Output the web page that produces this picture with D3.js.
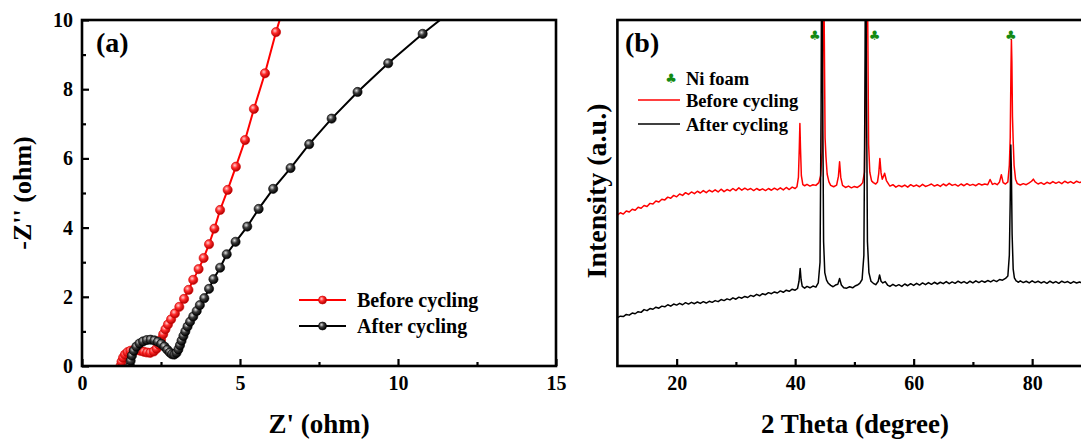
<!DOCTYPE html>
<html><head><meta charset="utf-8">
<script src="https://cdn.jsdelivr.net/npm/d3@7/dist/d3.min.js"></script>
<style>
html,body{margin:0;padding:0;background:#fff;overflow:hidden;}
text{font-family:"Liberation Serif","Times New Roman",serif;font-weight:bold;}
</style></head>
<body>
<svg id="chart" width="1081" height="441"></svg>
<script>
// ---------- Panel (a): Nyquist data [Z', -Z''] ----------
const beforeEIS = [[1.22,0.0],[1.25,0.12],[1.30,0.24],[1.36,0.33],[1.44,0.40],[1.53,0.44],[1.63,0.46],[1.74,0.46],[1.85,0.44],[1.96,0.41],[2.06,0.39],[2.16,0.38],[2.27,0.42],[2.36,0.50],[2.43,0.62],[2.50,0.76],[2.57,0.92],[2.64,1.06],[2.72,1.20],[2.82,1.35],[2.94,1.52],[3.08,1.71],[3.23,1.94],[3.37,2.20],[3.52,2.49],[3.69,2.80],[3.85,3.12],[4.02,3.52],[4.19,3.97],[4.37,4.51],[4.61,5.09],[4.87,5.76],[5.16,6.53],[5.44,7.43],[5.79,8.46],[6.14,9.65],[6.55,10.9]];
const afterEIS = [[1.52,0.0],[1.54,0.15],[1.58,0.30],[1.64,0.44],[1.72,0.56],[1.82,0.65],[1.93,0.71],[2.05,0.75],[2.17,0.76],[2.29,0.74],[2.40,0.70],[2.51,0.64],[2.61,0.56],[2.70,0.47],[2.78,0.39],[2.85,0.34],[2.92,0.33],[2.99,0.38],[3.05,0.48],[3.10,0.60],[3.15,0.73],[3.21,0.87],[3.27,1.00],[3.34,1.14],[3.42,1.28],[3.52,1.43],[3.63,1.59],[3.73,1.76],[3.87,1.96],[4.02,2.23],[4.16,2.51],[4.37,2.84],[4.58,3.23],[4.86,3.59],[5.23,4.03],[5.59,4.54],[6.05,5.12],[6.60,5.72],[7.19,6.41],[7.90,7.15],[8.72,7.92],[9.69,8.75],[10.78,9.60],[11.95,10.45]];
const eisXTicks = [0,5,10,15];
const eisXMinor = [2.5,7.5,12.5];
const eisYTicks = [0,2,4,6,8,10];
const eisYMinor = [1,3,5,7,9];

// ---------- Panel (b): XRD data [2theta, intensity (a.u.)] ----------
const beforeXRD = [[10.0,43.6],[10.5,44.3],[11.0,43.9],[11.5,44.8],[12.0,44.5],[12.5,45.3],[13.0,45.0],[13.5,45.9],[14.0,45.6],[14.5,46.4],[15.0,46.1],[15.5,47.0],[16.0,46.8],[16.5,47.7],[17.0,47.4],[17.5,48.2],[18.0,48.0],[18.5,48.8],[19.0,48.5],[19.5,49.3],[20.0,48.9],[20.5,49.7],[21.0,49.3],[21.5,50.1],[22.0,49.6],[22.5,50.3],[23.0,49.8],[23.5,50.5],[24.0,50.0],[24.5,50.7],[25.0,50.1],[25.5,50.8],[26.0,50.3],[26.5,50.9],[27.0,50.3],[27.5,51.1],[28.0,50.4],[28.5,51.0],[29.0,50.6],[29.5,51.3],[30.0,50.7],[30.5,51.5],[31.0,50.8],[31.5,51.4],[32.0,50.9],[32.5,51.3],[33.0,50.7],[33.5,51.3],[34.0,50.8],[34.5,51.2],[35.0,50.7],[35.5,51.3],[36.0,50.8],[36.5,51.4],[37.0,50.9],[37.5,51.5],[38.0,50.9],[38.5,51.6],[39.0,51.0],[39.5,51.7],[40.0,51.3],[40.3,51.8],[40.55,54.5],[40.7,63],[40.8,70.1],[40.9,63],[41.05,55],[41.3,52.4],[41.6,52.1],[42.0,52.5],[42.5,52.0],[43.0,52.4],[43.5,52.2],[44.0,53.0],[44.3,55],[44.55,62],[44.7,95],[44.8,135],[44.9,100],[45.05,66],[45.2,60.5],[45.4,55.5],[45.7,53.2],[46.0,52.2],[46.5,51.8],[47.0,52.3],[47.3,54.8],[47.5,59.0],[47.7,54.5],[48.0,52.2],[48.5,51.6],[49.0,52.0],[49.5,51.5],[50.0,51.9],[50.5,51.6],[51.0,52.2],[51.4,53.0],[51.7,56],[51.95,95],[52.1,135],[52.25,100],[52.4,64],[52.6,56],[52.9,53.5],[53.2,53.0],[53.6,52.6],[53.9,53.2],[54.1,55.5],[54.3,60.0],[54.5,55.8],[54.7,54.0],[54.9,54.8],[55.1,55.7],[55.4,53.6],[55.8,52.5],[56.0,52.0],[56.5,52.4],[57.0,51.7],[57.5,52.2],[58.0,51.8],[58.5,52.3],[59.0,51.7],[59.5,52.4],[60.0,51.9],[60.5,52.3],[61.0,51.8],[61.5,52.5],[62.0,51.9],[62.5,52.2],[63.0,52.6],[63.5,52.0],[64.0,52.4],[64.5,51.9],[65.0,52.6],[65.5,52.1],[66.0,52.8],[66.5,52.2],[67.0,52.5],[67.5,52.0],[68.0,52.6],[68.5,52.1],[69.0,52.7],[69.5,52.2],[70.0,52.5],[70.5,52.1],[71.0,52.7],[71.5,52.3],[72.0,52.6],[72.5,52.4],[72.9,53.9],[73.3,52.5],[73.7,52.8],[74.1,52.4],[74.5,53.2],[74.8,55.3],[75.1,53.0],[75.5,52.6],[75.9,53.2],[76.15,58],[76.3,66],[76.42,85],[76.5,94.3],[76.58,88],[76.68,72],[76.8,65],[76.95,58],[77.2,54],[77.5,52.7],[78.0,52.3],[78.5,52.7],[79.0,52.4],[79.5,52.9],[79.9,53.4],[80.2,54.0],[80.5,53.2],[81.0,52.6],[81.5,53.0],[82.0,52.5],[82.5,53.1],[83.0,52.7],[83.5,53.3],[84.0,52.8],[84.5,53.2],[85.0,52.7],[85.5,53.4],[86.0,52.9],[86.5,53.3],[87.0,52.8],[87.5,53.4],[88.0,53.0],[88.5,53.3],[89.0,52.9],[89.5,53.2],[90.0,53.0]];
const afterXRD = [[10.0,14.0],[10.5,14.4],[11.0,14.3],[11.5,14.9],[12.0,14.7],[12.5,15.3],[13.0,15.1],[13.5,15.7],[14.0,15.5],[14.5,16.3],[15.0,16.0],[15.5,16.6],[16.0,16.4],[16.5,17.0],[17.0,16.7],[17.5,17.3],[18.0,17.1],[18.5,17.7],[19.0,17.3],[19.5,17.9],[20.0,17.6],[20.5,18.1],[21.0,17.7],[21.5,18.3],[22.0,17.9],[22.5,18.4],[23.0,18.0],[23.5,18.5],[24.0,18.1],[24.5,18.6],[25.0,18.2],[25.5,18.7],[26.0,18.4],[26.5,18.9],[27.0,18.6],[27.5,19.2],[28.0,18.9],[28.5,19.4],[29.0,19.1],[29.5,19.7],[30.0,19.3],[30.5,19.9],[31.0,19.6],[31.5,20.1],[32.0,19.8],[32.5,20.4],[33.0,20.1],[33.5,20.7],[34.0,20.3],[34.5,20.9],[35.0,20.6],[35.5,21.2],[36.0,20.9],[36.5,21.4],[37.0,21.1],[37.5,21.7],[38.0,21.3],[38.5,21.9],[39.0,21.6],[39.5,22.2],[40.0,21.9],[40.4,22.4],[40.65,24.5],[40.85,28.2],[41.0,25.0],[41.2,23.0],[41.6,22.5],[42.0,23.0],[42.5,22.6],[43.0,23.1],[43.5,22.8],[43.9,24.0],[44.2,30],[44.38,75],[44.5,140],[44.62,85],[44.8,36],[45.0,27],[45.3,24.8],[45.6,23.9],[46.0,23.3],[46.4,22.9],[46.8,23.4],[47.2,23.6],[47.5,25.3],[47.8,23.4],[48.2,22.6],[48.7,22.5],[49.2,22.9],[49.7,22.6],[50.2,23.2],[50.6,23.5],[50.9,23.9],[51.3,25],[51.6,32],[51.78,80],[51.9,140],[52.02,85],[52.2,36],[52.45,27],[52.8,24.5],[53.2,23.9],[53.6,23.5],[54.0,24.4],[54.25,26.3],[54.5,24.5],[54.8,24.0],[55.2,24.4],[55.6,23.4],[56.0,23.0],[56.5,23.6],[57.0,23.1],[57.5,23.5],[58.0,23.0],[58.5,23.7],[59.0,23.2],[59.5,23.8],[60.0,23.3],[60.5,23.9],[61.0,23.4],[61.5,24.0],[62.0,23.5],[62.5,24.1],[63.0,23.6],[63.5,24.2],[64.0,23.7],[64.5,24.2],[65.0,23.8],[65.5,24.4],[66.0,23.8],[66.5,24.3],[67.0,23.9],[67.5,24.5],[68.0,24.0],[68.5,24.4],[69.0,23.9],[69.5,24.5],[70.0,24.0],[70.5,24.6],[71.0,24.1],[71.5,24.6],[72.0,24.2],[72.5,24.7],[73.0,24.3],[73.5,24.8],[74.0,24.4],[74.5,25.0],[75.0,24.8],[75.5,25.3],[75.9,26.0],[76.15,32],[76.3,48],[76.4,63.9],[76.5,56],[76.62,38],[76.8,28],[77.0,25.5],[77.3,24.6],[77.7,24.2],[78.0,24.6],[78.5,24.1],[79.0,24.5],[79.5,24.0],[80.0,24.6],[80.5,24.1],[81.0,24.5],[81.5,24.0],[82.0,24.4],[82.5,23.9],[83.0,24.5],[83.5,24.0],[84.0,24.4],[84.5,23.9],[85.0,24.5],[85.5,24.1],[86.0,24.4],[86.5,23.9],[87.0,24.4],[87.5,24.0],[88.0,24.3],[88.5,23.9],[89.0,24.3],[89.5,24.0],[90.0,24.2]];
const niFoamPeaks = [44.5, 51.9, 76.4];
const xrdXTicks = [20,40,60,80];
const xrdXMinor = [30,50,70];

const seriesNames = ["Before cycling","After cycling"];
const seriesColors = ["#ff0000","#000000"];

// ---------- Drawing ----------
const svg = d3.select("#chart");
const defs = svg.append("defs");
function ballGrad(id, c0, c1, c2){
  const g = defs.append("radialGradient").attr("id",id).attr("cx","38%").attr("cy","35%").attr("r","65%");
  g.append("stop").attr("offset","0%").attr("stop-color",c0);
  g.append("stop").attr("offset","45%").attr("stop-color",c1);
  g.append("stop").attr("offset","100%").attr("stop-color",c2);
}
ballGrad("ballRed","#ffd0d0","#ff2a2a","#b00000");
ballGrad("ballBlack","#e0e0e0","#3a3a3a","#000000");

// Panel (a)
const A = {l:82, r:556, t:20, b:366};
const xA = d3.scaleLinear().domain([0,15]).range([A.l, A.r]);
const yA = d3.scaleLinear().domain([0,10]).range([A.b, A.t]);
defs.append("clipPath").attr("id","clipA").append("rect").attr("x",A.l).attr("y",A.t).attr("width",A.r-A.l).attr("height",A.b-A.t);

const gA = svg.append("g");
function styleAxis(g){
  g.select(".domain").remove();
  g.selectAll(".tick line").attr("stroke","#000").attr("stroke-width",2.2);
  g.selectAll(".tick text").attr("fill","#000").style("font-size","20px").style("font-family",'"Liberation Serif","Times New Roman",serif').style("font-weight","bold");
}
gA.append("g").attr("transform",`translate(0,${A.b})`)
  .call(d3.axisBottom(xA).tickValues(eisXTicks).tickSizeInner(-7).tickSizeOuter(0).tickPadding(10).tickFormat(d3.format("d")))
  .call(styleAxis);
gA.append("g").attr("transform",`translate(0,${A.b})`)
  .call(d3.axisBottom(xA).tickValues(eisXMinor).tickSizeInner(-4).tickSizeOuter(0).tickFormat(""))
  .call(styleAxis);
gA.append("g").attr("transform",`translate(${A.l},0)`)
  .call(d3.axisLeft(yA).tickValues(eisYTicks).tickSizeInner(-7).tickSizeOuter(0).tickPadding(9).tickFormat(d3.format("d")))
  .call(styleAxis);
gA.append("g").attr("transform",`translate(${A.l},0)`)
  .call(d3.axisLeft(yA).tickValues(eisYMinor).tickSizeInner(-4).tickSizeOuter(0).tickFormat(""))
  .call(styleAxis);

const lineA = d3.line().x(d=>xA(d[0])).y(d=>yA(d[1]));
const plotA = gA.append("g").attr("clip-path","url(#clipA)");
[[beforeEIS,0,"ballRed"],[afterEIS,1,"ballBlack"]].forEach(([data,i,grad])=>{
  plotA.append("path").datum(data).attr("d",lineA).attr("fill","none").attr("stroke",seriesColors[i]).attr("stroke-width",2);
  plotA.selectAll(null).data(data).enter().append("circle")
    .attr("cx",d=>xA(d[0])).attr("cy",d=>yA(d[1])).attr("r",4.6)
    .attr("fill",`url(#${grad})`).attr("stroke",i===0?"#d00000":"#000").attr("stroke-width",0.6);
});
gA.append("rect").attr("x",A.l).attr("y",A.t).attr("width",A.r-A.l).attr("height",A.b-A.t)
  .attr("fill","none").attr("stroke","#000").attr("stroke-width",2.6);

gA.append("text").attr("x",96).attr("y",52).style("font-size","28px").text("(a)");
gA.append("text").attr("x",319).attr("y",433).attr("text-anchor","middle").style("font-size","27px").text("Z' (ohm)");
gA.append("text").attr("transform",`translate(22,${(A.t+A.b)/2}) rotate(-90)`).attr("text-anchor","middle").attr("dominant-baseline","central").style("font-size","26px").text("-Z'' (ohm)");

// legend (a)
const legA = gA.append("g");
[[300,0,"ballRed"],[326,1,"ballBlack"]].forEach(([y,i,grad])=>{
  legA.append("line").attr("x1",299).attr("x2",346).attr("y1",y).attr("y2",y).attr("stroke",seriesColors[i]).attr("stroke-width",2);
  legA.append("circle").attr("cx",322.5).attr("cy",y).attr("r",4).attr("fill",`url(#${grad})`).attr("stroke",i===0?"#d00000":"#000").attr("stroke-width",0.6);
  legA.append("text").attr("x",357).attr("y",y).attr("dominant-baseline","central").style("font-size","20px").text(seriesNames[i]);
});

// Panel (b)
const B = {l:617.4, r:1091.4, t:20, b:366};
const xB = d3.scaleLinear().domain([10,90]).range([B.l, B.r]);
const yB = d3.scaleLinear().domain([0,100]).range([B.b, B.t]);
defs.append("clipPath").attr("id","clipB").append("rect").attr("x",B.l).attr("y",B.t).attr("width",B.r-B.l).attr("height",B.b-B.t);
const gB = svg.append("g");
gB.append("g").attr("transform",`translate(0,${B.b})`)
  .call(d3.axisBottom(xB).tickValues(xrdXTicks).tickSizeInner(-7).tickSizeOuter(0).tickPadding(10).tickFormat(d3.format("d")))
  .call(styleAxis);
gB.append("g").attr("transform",`translate(0,${B.b})`)
  .call(d3.axisBottom(xB).tickValues(xrdXMinor).tickSizeInner(-4).tickSizeOuter(0).tickFormat(""))
  .call(styleAxis);
const lineB = d3.line().x(d=>xB(d[0])).y(d=>yB(d[1]));
const plotB = gB.append("g").attr("clip-path","url(#clipB)");
plotB.append("path").datum(beforeXRD).attr("d",lineB).attr("fill","none").attr("stroke",seriesColors[0]).attr("stroke-width",1.5).attr("stroke-linejoin","round");
plotB.append("path").datum(afterXRD).attr("d",lineB).attr("fill","none").attr("stroke",seriesColors[1]).attr("stroke-width",1.5).attr("stroke-linejoin","round");
gB.append("rect").attr("x",B.l).attr("y",B.t).attr("width",B.r-B.l).attr("height",B.b-B.t)
  .attr("fill","none").attr("stroke","#000").attr("stroke-width",2.6);

gB.selectAll(null).data(niFoamPeaks).enter().append("text")
  .attr("x",(d,i)=>xB(d)+(i===2?0:(i===0?-7:9))).attr("y",35).attr("text-anchor","middle").attr("dominant-baseline","central")
  .style("font-family","'DejaVu Sans',sans-serif").style("font-size","13px").attr("fill","#138a13").text("\u2663");

gB.append("text").attr("x",625).attr("y",52).style("font-size","28px").text("(b)");
gB.append("text").attr("x",855).attr("y",433).attr("text-anchor","middle").style("font-size","27px").text("2 Theta (degree)");
gB.append("text").attr("transform",`translate(596,191) rotate(-90)`).attr("text-anchor","middle").attr("dominant-baseline","central").style("font-size","28px").text("Intensity (a.u.)");

const legB = gB.append("g");
legB.append("text").attr("x",671).attr("y",78).attr("text-anchor","middle").attr("dominant-baseline","central")
  .style("font-family","'DejaVu Sans',sans-serif").style("font-size","13px").attr("fill","#138a13").text("\u2663");
legB.append("text").attr("x",686).attr("y",79).attr("dominant-baseline","central").style("font-size","18.5px").text("Ni foam");
[[100,0],[124,1]].forEach(([y,i])=>{
  legB.append("line").attr("x1",638).attr("x2",680).attr("y1",y).attr("y2",y).attr("stroke",seriesColors[i]).attr("stroke-width",1.3);
  legB.append("text").attr("x",686).attr("y",y+1).attr("dominant-baseline","central").style("font-size","18.5px").text(seriesNames[i]);
});
</script>
</body></html>
